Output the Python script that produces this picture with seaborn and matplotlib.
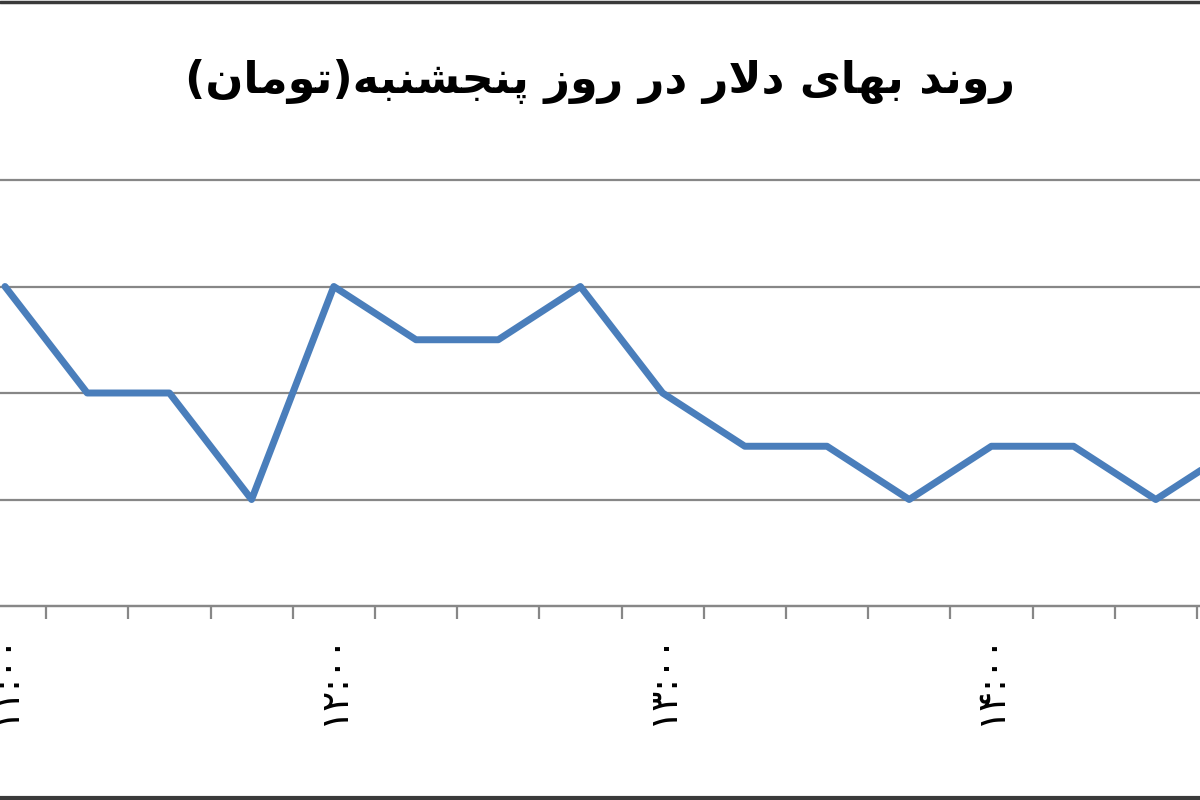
import matplotlib
matplotlib.use("Agg")
import matplotlib.pyplot as plt
from matplotlib.lines import Line2D
import seaborn as sns
import pandas as pd

# Thursday dollar price, sampled every 15 minutes (toman)
times = ["11:00", "11:15", "11:30", "11:45",
         "12:00", "12:15", "12:30", "12:45",
         "13:00", "13:15", "13:30", "13:45",
         "14:00", "14:15", "14:30", "14:45"]
prices = [3530, 3520, 3520, 3510,
          3530, 3525, 3525, 3530,
          3520, 3515, 3515, 3510,
          3515, 3515, 3510, 3515]
grid_values = [3500, 3510, 3520, 3530, 3540]
title_text = "روند بهای دلار در روز پنجشنبه(تومان)"

# presentation forms: isolated, final, initial, medial
FORMS = {
    'ا': ('\uFE8D', '\uFE8E', None, None),
    'ب': ('\uFE8F', '\uFE90', '\uFE91', '\uFE92'),
    'پ': ('\uFB56', '\uFB57', '\uFB58', '\uFB59'),
    'ت': ('\uFE95', '\uFE96', '\uFE97', '\uFE98'),
    'ج': ('\uFE9D', '\uFE9E', '\uFE9F', '\uFEA0'),
    'د': ('\uFEA9', '\uFEAA', None, None),
    'ر': ('\uFEAD', '\uFEAE', None, None),
    'ز': ('\uFEAF', '\uFEB0', None, None),
    'ش': ('\uFEB5', '\uFEB6', '\uFEB7', '\uFEB8'),
    'ل': ('\uFEDD', '\uFEDE', '\uFEDF', '\uFEE0'),
    'م': ('\uFEE1', '\uFEE2', '\uFEE3', '\uFEE4'),
    'ن': ('\uFEE5', '\uFEE6', '\uFEE7', '\uFEE8'),
    'ه': ('\uFEE9', '\uFEEA', '\uFEEB', '\uFEEC'),
    'و': ('\uFEED', '\uFEEE', None, None),
    'ی': ('\uFBFC', '\uFBFD', '\uFBFE', '\uFBFF'),
}


def dual(c):
    return c in FORMS and FORMS[c][2] is not None


def shape(text):
    # matplotlib does no arabic shaping, so do joining + rtl by hand
    out = []
    i = 0
    while i < len(text):
        c = text[i]
        prev = text[i - 1] if i > 0 else ''
        nxt = text[i + 1] if i + 1 < len(text) else ''
        if c not in FORMS:
            out.append(c)
            i += 1
            continue
        if c == 'ل' and nxt == 'ا':
            out.append('\uFEFC' if dual(prev) else '\uFEFB')
            i += 2
            continue
        jp = dual(prev)
        jn = dual(c) and nxt in FORMS
        iso, fin, ini, med = FORMS[c]
        if jp and jn:
            out.append(med)
        elif jp:
            out.append(fin)
        elif jn:
            out.append(ini)
        else:
            out.append(iso)
        i += 1
    visual = ''.join(reversed(out))
    return visual.translate(str.maketrans('()', ')('))


def fa_digits(s):
    return s.translate(str.maketrans('0123456789', '۰۱۲۳۴۵۶۷۸۹'))


def main():
    sns.set_style("white")
    plt.rcParams['font.family'] = ['DejaVu Sans']

    df = pd.DataFrame({"time": times, "price": prices})

    fig = plt.figure(figsize=(12, 8), dpi=100)
    # plot area is cropped on both sides like the original screenshot
    n = len(times) + 1
    step = 82.2
    left = 5 - 0.5 * step
    ax = fig.add_axes([left / 1200, 194 / 800, n * step / 1200, 426 / 800])

    sns.lineplot(data=df, x="time", y="price", ax=ax, color="#4A7EBB",
                 linewidth=5, solid_joinstyle="round", solid_capstyle="round")

    ax.set_xlim(-0.5, n - 0.5)
    ax.set_ylim(grid_values[0], grid_values[-1])
    ax.set_yticks(grid_values)
    ax.set_yticklabels([])
    ax.tick_params(axis="y", length=0)
    ax.grid(axis="y", color="#878787", linewidth=1.6)
    ax.grid(axis="x", visible=False)
    for gl in ax.get_ygridlines():
        gl.set_clip_on(False)

    for s in ["left", "right", "top"]:
        ax.spines[s].set_visible(False)
    ax.spines["bottom"].set_color("#878787")
    ax.spines["bottom"].set_linewidth(1.6)

    ax.set_xticks(range(len(times)))
    ax.set_xticklabels([fa_digits(t) if t.endswith(":00") else "" for t in times],
                       rotation=90, fontsize=27, color="black")
    ax.set_xticks([i + 0.5 for i in range(-1, n)], minor=True)
    ax.tick_params(axis="x", which="major", length=0, pad=19)
    ax.tick_params(axis="x", which="minor", bottom=True, length=9, width=1.6,
                   color="#878787", direction="out")
    ax.set_xlabel("")
    ax.set_ylabel("")

    fig.text(0.5, 1 - 82 / 800, shape(title_text), ha="center", va="center",
             fontsize=32, fontweight="bold", color="black")

    # outer chart border (only top and bottom show in the crop)
    fig.add_artist(Line2D([0, 1], [0.998, 0.998], transform=fig.transFigure,
                          color="#3a3a3a", linewidth=2.5))
    fig.add_artist(Line2D([0, 1], [0.003, 0.003], transform=fig.transFigure,
                          color="#3a3a3a", linewidth=3))

    fig.savefig("out.png", dpi=100)


if __name__ == "__main__":
    main()
